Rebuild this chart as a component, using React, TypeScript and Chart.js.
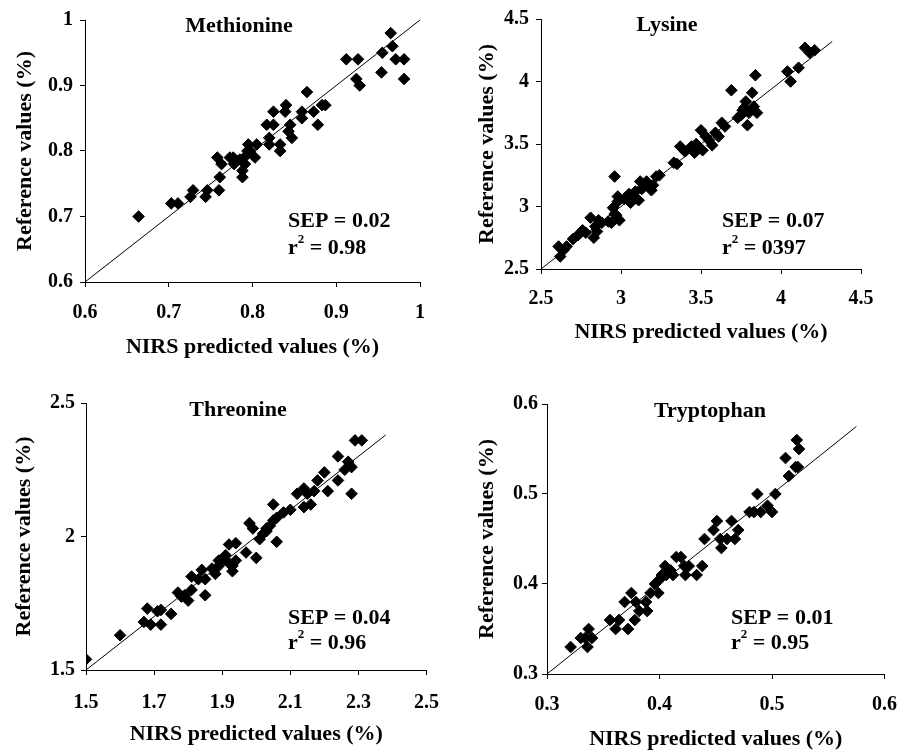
import React, { useEffect, useRef } from "react";
import { Chart, registerables } from "chart.js";

Chart.register(...registerables);

const FONT = "'Liberation Serif', 'Times New Roman', serif";

// ---------- Data ----------
const methioninePredicted = [0.664, 0.703, 0.711, 0.726, 0.729, 0.744, 0.746, 0.760, 0.761, 0.758, 0.763, 0.773, 0.777, 0.778, 0.785, 0.788, 0.788, 0.791, 0.794, 0.795, 0.803, 0.805, 0.817, 0.820, 0.820, 0.825, 0.825, 0.833, 0.833, 0.839, 0.840, 0.843, 0.845, 0.847, 0.859, 0.859, 0.865, 0.873, 0.878, 0.883, 0.887, 0.912, 0.926, 0.924, 0.928, 0.954, 0.955, 0.965, 0.967, 0.971, 0.981, 0.981, 0.782, 0.790, 0.797];
const methionineReference = [0.70, 0.72, 0.72, 0.73, 0.74, 0.73, 0.74, 0.74, 0.76, 0.79, 0.78, 0.79, 0.79, 0.78, 0.787, 0.77, 0.76, 0.78, 0.80, 0.81, 0.79, 0.81, 0.84, 0.82, 0.81, 0.84, 0.86, 0.80, 0.81, 0.86, 0.87, 0.83, 0.84, 0.82, 0.86, 0.85, 0.89, 0.86, 0.84, 0.87, 0.87, 0.94, 0.94, 0.91, 0.90, 0.92, 0.95, 0.98, 0.96, 0.94, 0.94, 0.91, 0.785, 0.790, 0.800];

const lysinePredicted = [2.61, 2.62, 2.66, 2.70, 2.73, 2.76, 2.81, 2.83, 2.84, 2.86, 2.88, 2.85, 2.94, 2.96, 2.95, 2.97, 2.98, 2.99, 2.98, 2.96, 3.06, 3.07, 3.09, 3.11, 3.12, 3.14, 3.16, 3.19, 3.22, 3.20, 3.33, 3.35, 3.37, 3.40, 3.44, 3.46, 3.50, 3.51, 3.55, 3.57, 3.59, 3.61, 3.63, 3.65, 3.69, 3.73, 3.76, 3.79, 3.80, 3.78, 3.82, 3.84, 3.85, 3.83, 4.04, 4.06, 4.11, 4.15, 4.18, 4.21, 3.02, 3.05, 3.13, 3.17, 3.24, 2.92, 2.78, 2.64, 3.47, 3.53, 3.75, 3.77];
const lysineReference = [2.68, 2.60, 2.68, 2.74, 2.77, 2.81, 2.91, 2.75, 2.84, 2.89, 2.87, 2.80, 2.87, 3.24, 2.99, 2.93, 3.04, 2.89, 3.08, 2.94, 3.03, 3.08, 3.12, 3.05, 3.20, 3.16, 3.20, 3.13, 3.24, 3.17, 3.35, 3.34, 3.48, 3.44, 3.48, 3.43, 3.61, 3.45, 3.53, 3.49, 3.59, 3.56, 3.67, 3.64, 3.93, 3.71, 3.77, 3.65, 3.75, 3.84, 3.91, 4.05, 3.75, 3.80, 4.08, 4.00, 4.11, 4.27, 4.23, 4.25, 3.06, 3.10, 3.14, 3.18, 3.25, 2.88, 2.79, 2.65, 3.50, 3.56, 3.73, 3.79];

const threoninePredicted = [1.50, 1.60, 1.67, 1.68, 1.69, 1.71, 1.72, 1.72, 1.75, 1.77, 1.78, 1.80, 1.81, 1.81, 1.83, 1.84, 1.85, 1.85, 1.87, 1.88, 1.89, 1.90, 1.91, 1.92, 1.93, 1.93, 1.94, 1.94, 1.97, 1.98, 1.99, 2.00, 2.01, 2.02, 2.03, 2.03, 2.05, 2.05, 2.06, 2.06, 2.08, 2.10, 2.12, 2.14, 2.14, 2.16, 2.15, 2.17, 2.18, 2.20, 2.21, 2.24, 2.24, 2.26, 2.27, 2.28, 2.28, 2.29, 2.31, 1.89, 1.92, 2.04, 1.79];
const threonineReference = [1.54, 1.63, 1.68, 1.73, 1.67, 1.72, 1.67, 1.725, 1.71, 1.79, 1.775, 1.76, 1.80, 1.85, 1.84, 1.875, 1.78, 1.84, 1.88, 1.86, 1.89, 1.915, 1.93, 1.97, 1.87, 1.89, 1.91, 1.975, 1.94, 2.05, 2.03, 1.92, 1.99, 2.01, 2.02, 2.03, 2.06, 2.12, 1.98, 2.07, 2.09, 2.10, 2.16, 2.18, 2.11, 2.12, 2.16, 2.17, 2.21, 2.24, 2.17, 2.21, 2.30, 2.25, 2.28, 2.26, 2.16, 2.36, 2.36, 1.91, 1.90, 2.04, 1.78];

const tryptophanPredicted = [0.321, 0.330, 0.336, 0.337, 0.340, 0.334, 0.356, 0.361, 0.364, 0.369, 0.372, 0.375, 0.378, 0.379, 0.382, 0.388, 0.389, 0.392, 0.396, 0.399, 0.400, 0.402, 0.405, 0.406, 0.410, 0.412, 0.415, 0.419, 0.422, 0.423, 0.426, 0.433, 0.438, 0.440, 0.448, 0.451, 0.454, 0.455, 0.460, 0.464, 0.467, 0.470, 0.480, 0.484, 0.487, 0.490, 0.496, 0.500, 0.503, 0.512, 0.515, 0.521, 0.522, 0.524, 0.523];
const tryptophanReference = [0.33, 0.34, 0.33, 0.35, 0.34, 0.34, 0.36, 0.35, 0.36, 0.38, 0.35, 0.39, 0.36, 0.38, 0.37, 0.38, 0.37, 0.39, 0.40, 0.39, 0.405, 0.41, 0.42, 0.41, 0.415, 0.41, 0.43, 0.43, 0.42, 0.41, 0.42, 0.41, 0.42, 0.45, 0.46, 0.47, 0.45, 0.44, 0.45, 0.47, 0.45, 0.46, 0.48, 0.48, 0.50, 0.48, 0.487, 0.48, 0.50, 0.54, 0.52, 0.53, 0.56, 0.55, 0.53];

// Axis ticks
const methionineTicks = [0.6, 0.7, 0.8, 0.9, 1.0];
const methionineTickLabels = ["0.6", "0.7", "0.8", "0.9", "1"];
const lysineTicks = [2.5, 3.0, 3.5, 4.0, 4.5];
const lysineTickLabels = ["2.5", "3", "3.5", "4", "4.5"];
const threonineXTicks = [1.5, 1.7, 1.9, 2.1, 2.3, 2.5];
const threonineXTickLabels = ["1.5", "1.7", "1.9", "2.1", "2.3", "2.5"];
const threonineYTicks = [1.5, 2.0, 2.5];
const threonineYTickLabels = ["1.5", "2", "2.5"];
const tryptophanTicks = [0.3, 0.4, 0.5, 0.6];
const tryptophanTickLabels = ["0.3", "0.4", "0.5", "0.6"];

// 1:1 line extents [start, end]
const methionineLine = [0.6, 1.0];
const lysineLine = [2.5, 4.32];
const threonineLine = [1.5, 2.38];
const tryptophanLine = [0.3, 0.575];

const titles = ["Methionine", "Lysine", "Threonine", "Tryptophan"];
const sepValues = ["0.02", "0.07", "0.04", "0.01"];
const r2Values = ["0.98", "0397", "0.96", "0.95"];

const X_TITLE = "NIRS predicted values (%)";
const Y_TITLE = "Reference values (%)";

// ---------- Layout ----------
type PanelCfg = {
  left: number; top: number; w: number; h: number;
  area: { left: number; top: number; right: number; bottom: number };
  xs: number[]; ys: number[];
  xTicks: number[]; xLabels: string[];
  yTicks: number[]; yLabels: string[];
  line: number[];
  title: string; sep: string; r2: string;
  titleX: number; titleY: number; textX: number; sepY: number; rY: number;
  xTickPad: number; yTickPad: number; xTitlePad: number; yTitlePad: number;
};

const panels: PanelCfg[] = [
  {
    left: 0, top: 0, w: 455, h: 375,
    area: { left: 85, top: 20, right: 420, bottom: 282 },
    xs: methioninePredicted, ys: methionineReference,
    xTicks: methionineTicks, xLabels: methionineTickLabels,
    yTicks: methionineTicks, yLabels: methionineTickLabels,
    line: methionineLine,
    title: titles[0], sep: sepValues[0], r2: r2Values[0],
    titleX: 239, titleY: 26, textX: 288, sepY: 221, rY: 248,
    xTickPad: 14, yTickPad: 7, xTitlePad: 14, yTitlePad: 12,
  },
  {
    left: 455, top: 0, w: 456, h: 375,
    area: { left: 86, top: 19, right: 406, bottom: 269 },
    xs: lysinePredicted, ys: lysineReference,
    xTicks: lysineTicks, xLabels: lysineTickLabels,
    yTicks: lysineTicks, yLabels: lysineTickLabels,
    line: lysineLine,
    title: titles[1], sep: sepValues[1], r2: r2Values[1],
    titleX: 212, titleY: 25, textX: 267, sepY: 221, rY: 248,
    xTickPad: 13, yTickPad: 7, xTitlePad: 29, yTitlePad: 19,
  },
  {
    left: 0, top: 375, w: 455, h: 400,
    area: { left: 86, top: 28, right: 428, bottom: 295 },
    xs: threoninePredicted, ys: threonineReference,
    xTicks: threonineXTicks, xLabels: threonineXTickLabels,
    yTicks: threonineYTicks, yLabels: threonineYTickLabels,
    line: threonineLine,
    title: titles[2], sep: sepValues[2], r2: r2Values[2],
    titleX: 238, titleY: 35, textX: 288, sepY: 243, rY: 268,
    xTickPad: 16, yTickPad: 6, xTitlePad: 27, yTitlePad: 11,
  },
  {
    left: 455, top: 375, w: 456, h: 400,
    area: { left: 92, top: 29, right: 439, bottom: 299 },
    xs: tryptophanPredicted, ys: tryptophanReference,
    xTicks: tryptophanTicks, xLabels: tryptophanTickLabels,
    yTicks: tryptophanTicks, yLabels: tryptophanTickLabels,
    line: tryptophanLine,
    title: titles[3], sep: sepValues[3], r2: r2Values[3],
    titleX: 255, titleY: 36, textX: 276, sepY: 243, rY: 268,
    xTickPad: 14, yTickPad: 4, xTitlePad: 22, yTitlePad: 19,
  },
];

const annotPlugin = {
  id: "annot",
  afterDraw(chart: any, _args: any, opts: any) {
    const ctx = chart.ctx as CanvasRenderingContext2D;
    ctx.save();
    ctx.fillStyle = "#000";
    ctx.textBaseline = "middle";
    ctx.font = `bold 22px ${FONT}`;
    ctx.textAlign = "center";
    ctx.fillText(opts.title, opts.titleX, opts.titleY);
    ctx.textAlign = "left";
    ctx.fillText(`SEP = ${opts.sep}`, opts.textX, opts.sepY);
    let x = opts.textX;
    ctx.fillText("r", x, opts.rY);
    x += ctx.measureText("r").width;
    ctx.font = `bold 13px ${FONT}`;
    ctx.fillText("2", x, opts.rY - 8);
    x += ctx.measureText("2").width;
    ctx.font = `bold 22px ${FONT}`;
    ctx.fillText(` = ${opts.r2}`, x, opts.rY);
    ctx.restore();
  },
};

function Panel({ cfg }: { cfg: PanelCfg }) {
  const ref = useRef<HTMLCanvasElement>(null);
  useEffect(() => {
    const tickFont = { family: FONT, size: 20, weight: "bold" as const };
    const titleFont = { family: FONT, size: 22, weight: "bold" as const };
    const points = cfg.xs.map((x, i) => ({ x, y: cfg.ys[i] }));
    const chart = new Chart(ref.current!, {
      type: "scatter",
      data: {
        datasets: [
          {
            data: [
              { x: cfg.line[0], y: cfg.line[0] },
              { x: cfg.line[1], y: cfg.line[1] },
            ],
            showLine: true,
            borderColor: "#000",
            borderWidth: 1,
            pointRadius: 0,
            fill: false,
          } as any,
          {
            data: points,
            pointStyle: "rectRot",
            pointRadius: 5.8,
            pointBorderWidth: 1,
            backgroundColor: "#000",
            borderColor: "#000",
          },
        ],
      },
      options: {
        animation: false,
        responsive: false,
        devicePixelRatio: 1,
        layout: {
          padding: {
            left: 0,
            top: cfg.area.top,
            right: cfg.w - cfg.area.right,
            bottom: 0,
          },
        },
        plugins: {
          legend: { display: false },
          tooltip: { enabled: false },
          annot: {
            title: cfg.title, sep: cfg.sep, r2: cfg.r2,
            titleX: cfg.titleX, titleY: cfg.titleY,
            textX: cfg.textX, sepY: cfg.sepY, rY: cfg.rY,
          },
        } as any,
        scales: {
          x: {
            type: "linear",
            min: cfg.xTicks[0],
            max: cfg.xTicks[cfg.xTicks.length - 1],
            afterBuildTicks: (s: any) => {
              s.ticks = cfg.xTicks.map((v) => ({ value: v }));
            },
            afterFit: (s: any) => {
              s.height = cfg.h - cfg.area.bottom;
            },
            grid: {
              display: true,
              drawOnChartArea: false,
              drawTicks: true,
              tickLength: 5,
              color: "#000",
              tickColor: "#000",
              tickWidth: 1,
            },
            border: { display: true, color: "#000", width: 1 },
            ticks: {
              color: "#000",
              font: tickFont,
              padding: cfg.xTickPad,
              maxRotation: 0,
              autoSkip: false,
              callback: (_v: any, i: number) => cfg.xLabels[i],
            },
            title: {
              display: true,
              text: X_TITLE,
              color: "#000",
              font: titleFont,
              padding: { top: 0, bottom: cfg.xTitlePad },
            },
          },
          y: {
            type: "linear",
            min: cfg.yTicks[0],
            max: cfg.yTicks[cfg.yTicks.length - 1],
            afterBuildTicks: (s: any) => {
              s.ticks = cfg.yTicks.map((v) => ({ value: v }));
            },
            afterFit: (s: any) => {
              s.width = cfg.area.left;
            },
            grid: {
              display: true,
              drawOnChartArea: false,
              drawTicks: true,
              tickLength: 5,
              color: "#000",
              tickColor: "#000",
              tickWidth: 1,
            },
            border: { display: true, color: "#000", width: 1 },
            ticks: {
              color: "#000",
              font: tickFont,
              padding: cfg.yTickPad,
              autoSkip: false,
              callback: (_v: any, i: number) => cfg.yLabels[i],
            },
            title: {
              display: true,
              text: Y_TITLE,
              color: "#000",
              font: titleFont,
              padding: { top: cfg.yTitlePad, bottom: 0 },
            },
          },
        },
      },
      plugins: [annotPlugin as any],
    });
    return () => chart.destroy();
  }, [cfg]);
  return (
    <canvas
      ref={ref}
      width={cfg.w}
      height={cfg.h}
      style={{
        position: "absolute",
        left: cfg.left,
        top: cfg.top,
        width: cfg.w,
        height: cfg.h,
        display: "block",
      }}
    />
  );
}

export default function App() {
  return (
    <div
      style={{
        position: "fixed",
        left: 0,
        top: 0,
        width: 911,
        height: 752,
        overflow: "hidden",
        background: "#fff",
      }}
    >
      {panels.map((p, i) => (
        <Panel key={i} cfg={p} />
      ))}
    </div>
  );
}
